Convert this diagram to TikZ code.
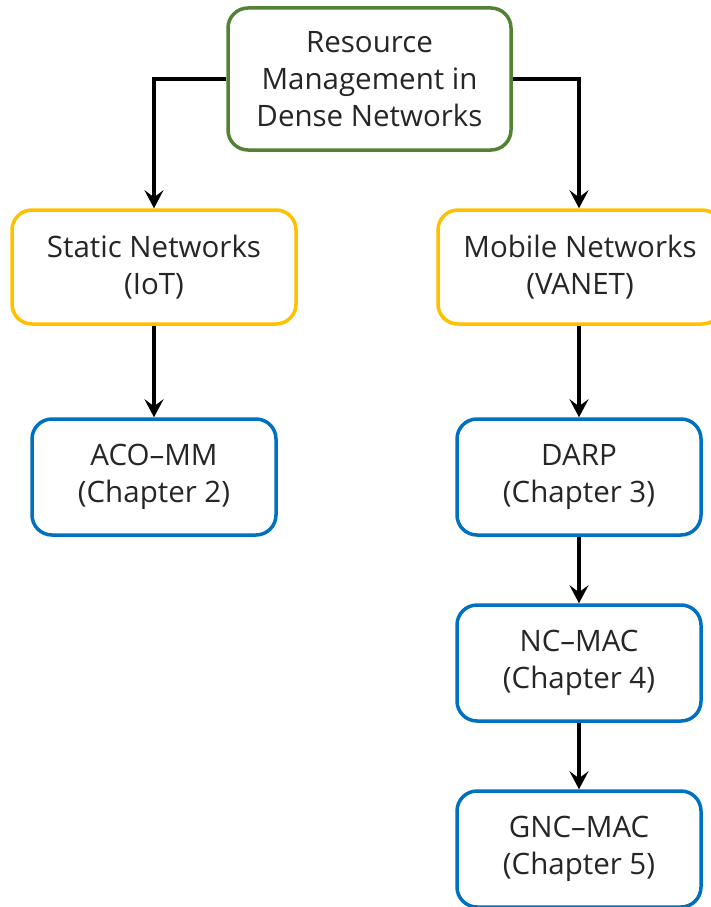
\documentclass[tikz,border=0pt]{standalone}
\usepackage{fontspec}
\setmainfont{Open Sans}
\usepackage{xcolor}
\usetikzlibrary{arrows.meta}
\definecolor{rootgreen}{HTML}{548235}
\definecolor{netyellow}{HTML}{FFC000}
\definecolor{chapblue}{HTML}{0070C0}
\begin{document}
\begin{tikzpicture}[x=1pt,y=-1pt,
    box/.style={draw,line width=3.5pt,rounded corners=20pt,fill=white,align=center,
      text=black!85,font=\fontsize{29.5}{37}\selectfont,inner sep=0pt},
    rootbox/.style={box,draw=rootgreen,minimum width=283pt,minimum height=142pt},
    netbox/.style={box,draw=netyellow,minimum width=284pt,minimum height=114pt},
    chapbox/.style={box,draw=chapblue,minimum width=244pt,minimum height=116pt},
    flow/.style={line width=3.5pt,-{Stealth[length=18pt,width=19pt,inset=7pt]}}]
  \useasboundingbox (0,0) rectangle (711,907);
  \clip (0,0) rectangle (711,907);
  % tree of boxes
  \node[rootbox] (root) at (369.5,79) {Resource\\Management in\\Dense Networks};
  \node[netbox] (static) at (154,267) {Static Networks\\(IoT)};
  \node[netbox] (mobile) at (580,267) {Mobile Networks\\(VANET)};
  \node[chapbox] (aco) at (154,477) {ACO--MM\\(Chapter 2)};
  \node[chapbox] (darp) at (579,477) {DARP\\(Chapter 3)};
  \node[chapbox] (ncmac) at (579,663) {NC--MAC\\(Chapter 4)};
  \node[chapbox] (gncmac) at (579,849) {GNC--MAC\\(Chapter 5)};
  % connectors
  \draw[flow] (root.west) -| (static.north);
  \draw[flow] (root.east) -| (mobile.north -| darp.north);
  \draw[flow] (static.south) -- (aco.north);
  \draw[flow] (mobile.south -| darp.north) -- (darp.north);
  \draw[flow] (darp.south) -- (ncmac.north);
  \draw[flow] (ncmac.south) -- (gncmac.north);
\end{tikzpicture}
\end{document}
